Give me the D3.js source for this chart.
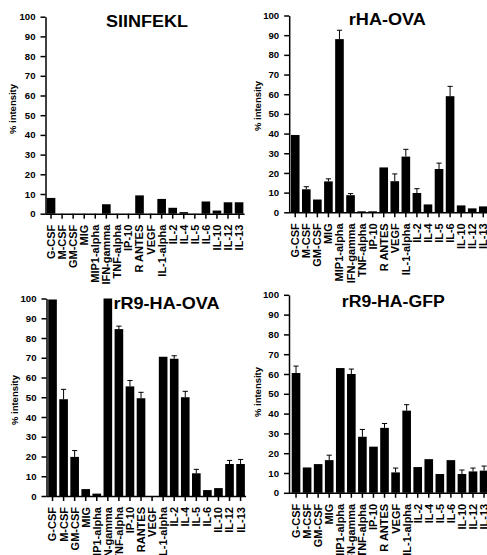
<!DOCTYPE html>
<html><head><meta charset="utf-8">
<script src="https://cdn.jsdelivr.net/npm/d3@7"></script>
<style>
body{margin:0;background:#fff}
svg{display:block}
text{font-family:"Liberation Sans",Arial,sans-serif;font-weight:bold;fill:#000}
</style>
</head><body>
<svg id="chart" width="487" height="555"></svg>
<script>
// ---- data ----
const categories = ["G-CSF","M-CSF","GM-CSF","MIG","MIP1-alpha","IFN-gamma","TNF-alpha","IP-10","RANTES","VEGF","IL-1-alpha","IL-2","IL-4","IL-5","IL-6","IL-10","IL-12","IL-13"];
const tickLabelsSpaced = ["G-CSF","M-CSF","GM-CSF","MIG","MIP1-alpha","IFN-gamma","TNF-alpha","IP-10","R ANTES","VEGF","IL-1-alpha","IL-2","IL-4","IL-5","IL-6","IL-10","IL-12","IL-13"];
const tickLabelsPlain = ["G-CSF","M-CSF","GM-CSF","MIG","MIP1-alpha","IFN-gamma","TNF-alpha","IP-10","RANTES","VEGF","IL-1-alpha","IL-2","IL-4","IL-5","IL-6","IL-10","IL-12","IL-13"];
const yTicks = [0,10,20,30,40,50,60,70,80,90,100];
const titles = ["SIINFEKL","rHA-OVA","rR9-HA-OVA","rR9-HA-GFP"];

const siinfekl    = [8, 0, 0, 0, 0, 4.8, 0, 0, 9.3, 0, 7.5, 3, 0.8, 0, 6.2, 1.6, 5.8, 5.8];
const siinfeklErr = [null,null,null,null,null,null,null,null,null,null,null,null,null,null,null,null,null,null];

const rhaOva    = [39.3, 11.7, 6.5, 15.7, 88, 8.7, 0.5, 0.5, 22.8, 15.8, 28.3, 9.8, 4, 22, 59, 3.5, 2, 3];
const rhaOvaErr = [null, 13, null, 17, 92.5, 9.5, null, null, null, 19.5, 32, 12, null, 25, 64, null, null, null];

const r9haOva    = [99.5, 49, 19.8, 3.5, 1.2, 100, 84.5, 55.5, 49.5, 0, 70.5, 69.5, 50, 11.5, 3, 4, 16.2, 16.2];
const r9haOvaErr = [null, 54, 23, null, null, null, 86, 58.5, 52.5, null, null, 71, 53, 13.5, null, null, 18, 18.5];

const r9haGfp    = [60.5, 12.8, 14.5, 16.5, 63, 60, 28.3, 23.3, 32.8, 10.3, 41.5, 13, 17, 9.5, 16.5, 9.5, 10.8, 11.2];
const r9haGfpErr = [64, null, null, 19, null, 62.5, 32, null, 35, 12.5, 44.5, null, null, null, null, 11.5, 12.5, 13.5];

// ---- layout ----
const panels = [
  {title:titles[0], values:siinfekl, err:siinfeklErr, labels:tickLabelsSpaced, ax:45.5, xr:[45.5,244.6], yr:[213.7,16.7], tx:147, ty:26.7, tfs:16, tw:82, ylx:13, yly:109},
  {title:titles[1], values:rhaOva, err:rhaOvaErr, labels:tickLabelsSpaced, ax:289.2, xr:[289.7,488.8], yr:[212.3,15.5], tx:387.3, ty:25, tfs:16, tw:77, ylx:258, yly:106},
  {title:titles[2], values:r9haOva, err:r9haOvaErr, labels:tickLabelsPlain, ax:46.5, xr:[47,246.1], yr:[496,298.5], tx:166.5, ty:308.5, tfs:17, tw:106, ylx:15, yly:400},
  {title:titles[3], values:r9haGfp, err:r9haGfpErr, labels:tickLabelsSpaced, ax:289, xr:[290.5,489.6], yr:[492.8,294.8], tx:393.3, ty:307.3, tfs:16, tw:103, ylx:258, yly:392}
];

const svg = d3.select("#chart");

panels.forEach(p => {
  const g = svg.append("g");
  const x = d3.scaleBand().domain(categories).range(p.xr).paddingInner(0.22).paddingOuter(0.11);
  const y = d3.scaleLinear().domain([0,100]).range(p.yr);

  // title (drawn first so bars sit on top)
  g.append("text")
    .attr("x", p.tx).attr("y", p.ty)
    .attr("text-anchor","middle")
    .style("font-size", p.tfs + "px")
    .attr("textLength", p.tw).attr("lengthAdjust","spacingAndGlyphs")
    .text(p.title);

  // y label
  g.append("text")
    .attr("transform", `translate(${p.ylx},${p.yly}) rotate(-90)`)
    .attr("text-anchor","middle")
    .attr("dy","0.35em")
    .style("font-size","9.5px")
    .text("% intensity");

  // bars
  const data = categories.map((c,i) => ({c, v:p.values[i], e:p.err[i]}));
  g.selectAll("rect.bar").data(data).join("rect")
    .attr("class","bar")
    .attr("x", d => x(d.c))
    .attr("width", x.bandwidth())
    .attr("y", d => y(d.v))
    .attr("height", d => y(0) - y(d.v))
    .attr("fill","#000");

  // error bars
  const ed = data.filter(d => d.e != null);
  const cx = d => x(d.c) + x.bandwidth()/2;
  g.selectAll("line.err").data(ed).join("line")
    .attr("class","err")
    .attr("x1", cx).attr("x2", cx)
    .attr("y1", d => y(d.v)).attr("y2", d => y(d.e))
    .attr("stroke","#000").attr("stroke-width",1);
  g.selectAll("line.cap").data(ed).join("line")
    .attr("class","cap")
    .attr("x1", d => cx(d) - 2.6).attr("x2", d => cx(d) + 2.6)
    .attr("y1", d => y(d.e)).attr("y2", d => y(d.e))
    .attr("stroke","#000").attr("stroke-width",1);

  // y axis
  const ya = g.append("g").attr("transform", `translate(${p.ax},0)`)
    .call(d3.axisLeft(y).tickValues(yTicks).tickSize(5).tickPadding(5).tickSizeOuter(0));
  ya.selectAll("text").style("font-size","9.6px").style("font-family",'"Liberation Sans",Arial,sans-serif').style("font-weight","bold");

  // x axis
  const labelMap = new Map(categories.map((c,i) => [c, p.labels[i]]));
  const xa = g.append("g").attr("transform", `translate(0,${p.yr[0]})`)
    .call(d3.axisBottom(x).tickSize(5).tickSizeOuter(0).tickFormat(c => labelMap.get(c)));
  xa.select(".domain").attr("d", `M${p.ax},0.5H${p.xr[1]}`);
  xa.selectAll("text")
    .attr("transform","rotate(-90)")
    .attr("text-anchor","end")
    .attr("x", -11).attr("y", 0).attr("dy","0.36em")
    .style("font-size","11px").style("font-family",'"Liberation Sans",Arial,sans-serif').style("font-weight","bold");

  g.selectAll(".domain, .tick line").attr("stroke","#000").attr("stroke-width",1.5);
});
</script>
</body></html>
